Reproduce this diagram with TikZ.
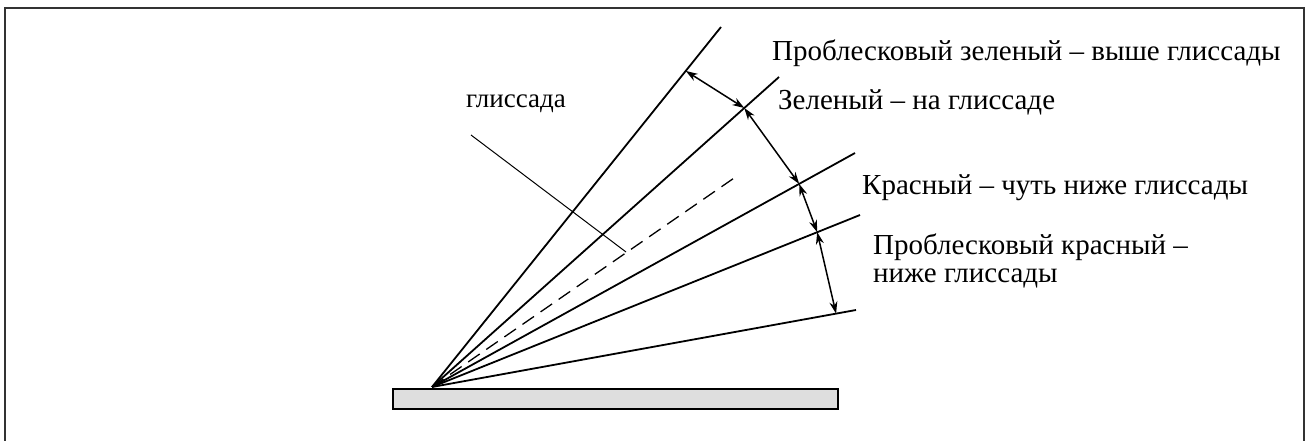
\documentclass[tikz,border=0pt]{standalone}
\usepackage{fontspec}
\setmainfont{Liberation Serif}
\usetikzlibrary{arrows.meta,calc}
\tikzset{
  ray/.style={line width=1.8pt, black},
  dim/.style={line width=1.5pt, {Stealth[length=12pt,width=8pt]}-{Stealth[length=12pt,width=8pt]}},
  lbl/.style={anchor=base west, inner sep=0pt, font=\fontsize{29}{33}\selectfont},
  frame/.style={line width=2pt, black!80},
}
\begin{document}
\begin{tikzpicture}[x=1pt,y=-1pt]
\useasboundingbox (0,0) rectangle (1313,441);
% frame (open at bottom)
\draw[frame] (4.5,445) -- (4.5,8) -- (1303.5,8) -- (1303.5,445);
% runway
\node[draw, line width=2pt, fill=black!13, minimum width=445pt, minimum height=20pt, inner sep=0pt, anchor=north west] (rw) at (392,388) {};
\coordinate (O) at (432,387);
\coordinate (E1) at (721,27);
\coordinate (E2) at (779,77);
\coordinate (E3) at (855,153);
\coordinate (E4) at (860,215);
\coordinate (E5) at (856,310);
\coordinate (G) at (737,176);
\draw[ray] (O) -- (E1);
\draw[ray] (O) -- (E2);
\draw[ray] (O) -- (E3);
\draw[ray] (O) -- (E4);
\draw[ray] (O) -- (E5);
\draw[line width=1.3pt, dash pattern=on 14pt off 8pt] (O) -- (G);
% pointer
\coordinate (P1) at (471,135);
\coordinate (P2) at (626,252);
\draw[line width=1pt] (P1) -- (P2);
% dimension points
\coordinate (A) at ($(O)!0.878!(E1)$);
\coordinate (B) at ($(O)!0.9!(E2)$);
\coordinate (C) at ($(O)!0.868!(E3)$);
\coordinate (D) at ($(O)!0.9!(E4)$);
\coordinate (F) at ($(O)!0.953!(E5)$);
\draw[dim] (A) -- (B);
\draw[dim] (B) -- (C);
\draw[dim] (C) -- (D);
\draw[dim] (D) -- (F);
% labels
\node[lbl] (t1) at (772,61) {Проблесковый зеленый – выше глиссады};
\node[lbl] (t2) at (778,110) {Зеленый – на глиссаде};
\node[lbl] (t3) at (862,194) {Красный – чуть ниже глиссады};
\node[lbl] (t4) at (873,254) {Проблесковый красный –};
\node[lbl] (t5) at (873,282) {ниже глиссады};
\node[lbl, font=\fontsize{27}{31}\selectfont] (t6) at (466,108) {глиссада};
\end{tikzpicture}
\end{document}
